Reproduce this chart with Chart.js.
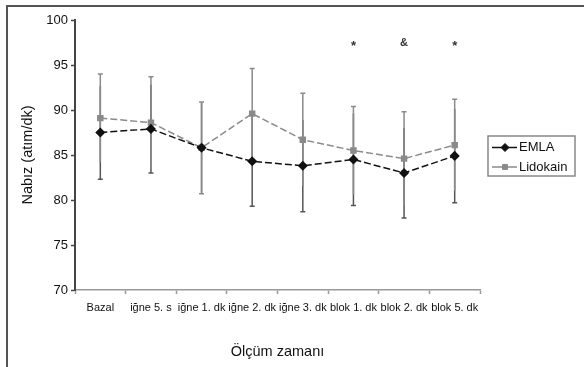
<!DOCTYPE html>
<html>
<head>
<meta charset="utf-8">
<script src="https://cdn.jsdelivr.net/npm/chart.js@4"></script>
<style>
  html, body { margin: 0; padding: 0; background: #fff; }
  #wrap { width: 584px; height: 367px; position: relative; }
</style>
</head>
<body>
<div id="wrap"><canvas id="c" width="584" height="367"></canvas></div>
<script>
const categories = ['Bazal', 'iğne 5. s', 'iğne 1. dk', 'iğne 2. dk', 'iğne 3. dk', 'blok 1. dk', 'blok 2. dk', 'blok 5. dk'];
const emlaValues = [87.5, 87.9, 85.8, 84.3, 83.8, 84.5, 83.0, 84.9];
const emlaSD = [5.2, 4.9, 5.0, 5.0, 5.1, 5.1, 5.0, 5.2];
const lidokainValues = [89.1, 88.6, 85.8, 89.6, 86.7, 85.5, 84.6, 86.1];
const lidokainSD = [4.9, 5.1, 5.1, 5.0, 5.15, 4.9, 5.2, 5.1];
const significanceMarks = ['', '', '', '', '', '*', '&', '*'];
const significanceLevel = 97.4;
const yTicks = [70, 75, 80, 85, 90, 95, 100];

const FONT = "'Liberation Sans', Arial, sans-serif";

const errorBarPlugin = {
  id: 'errorBars',
  beforeDatasetsDraw(chart) {
    const ctx = chart.ctx;
    const x = chart.scales.x, y = chart.scales.y;
    const dss = chart.data.datasets;
    dss.forEach((ds) => {
      const sd = ds.sd;
      ctx.save();
      ctx.strokeStyle = ds.errorColor;
      ctx.lineWidth = 1.5;
      ds.data.forEach((v, i) => {
        const hi = v + sd[i], lo = v - sd[i];
        const maxHi = Math.max(...dss.map(d => d.data[i] + d.sd[i]));
        const minLo = Math.min(...dss.map(d => d.data[i] - d.sd[i]));
        const px = x.getPixelForValue(i);
        const top = y.getPixelForValue(hi);
        const bot = y.getPixelForValue(lo);
        ctx.beginPath();
        ctx.moveTo(px, top); ctx.lineTo(px, bot);
        if (hi === maxHi) { ctx.moveTo(px - 2.5, top); ctx.lineTo(px + 2.5, top); }
        if (lo === minLo) { ctx.moveTo(px - 2.5, bot); ctx.lineTo(px + 2.5, bot); }
        ctx.stroke();
      });
      ctx.restore();
    });
  }
};

const decorPlugin = {
  id: 'decor',
  afterDraw(chart) {
    const ctx = chart.ctx;
    const x = chart.scales.x, y = chart.scales.y;
    ctx.save();
    // frame
    ctx.strokeStyle = '#555';
    ctx.lineWidth = 2;
    ctx.beginPath();
    ctx.moveTo(7, 367); ctx.lineTo(7, 6); ctx.lineTo(584, 6);
    ctx.stroke();

    // significance marks
    ctx.fillStyle = '#333';
    ctx.textAlign = 'center';
    ctx.textBaseline = 'middle';
    significanceMarks.forEach((m, i) => {
      if (!m) return;
      const px = x.getPixelForValue(i);
      const py = y.getPixelForValue(significanceLevel);
      if (m === '*') {
        ctx.font = 'bold 13px ' + FONT;
        ctx.fillText(m, px, py + 3);
      } else {
        ctx.font = 'bold 11px ' + FONT;
        ctx.fillText(m, px, py);
      }
    });

    // legend
    const lx = 488, ly = 136, lw = 87, lh = 40;
    ctx.fillStyle = '#fff';
    ctx.fillRect(lx, ly, lw, lh);
    ctx.strokeStyle = '#888';
    ctx.lineWidth = 1.5;
    ctx.strokeRect(lx, ly, lw, lh);
    ctx.font = '13px ' + FONT;
    ctx.textAlign = 'left';
    ctx.textBaseline = 'middle';
    chart.data.datasets.forEach((ds, i) => {
      const cy = 147.5 + i * 19.5;
      ctx.strokeStyle = ds.borderColor;
      ctx.lineWidth = 1.5;
      ctx.beginPath();
      ctx.moveTo(492, cy); ctx.lineTo(517, cy);
      ctx.stroke();
      ctx.fillStyle = ds.pointBackgroundColor;
      ctx.strokeStyle = ds.pointBorderColor;
      ctx.lineWidth = 1;
      Chart.helpers.drawPoint(ctx, {
        pointStyle: ds.pointStyle, radius: ds.pointRadius, borderWidth: 1, rotation: 0
      }, 505, cy);
      ctx.fillStyle = '#111';
      ctx.fillText(ds.label, 519, cy);
    });
    ctx.restore();
  }
};

new Chart(document.getElementById('c'), {
  type: 'line',
  data: {
    labels: categories,
    datasets: [
      {
        label: 'EMLA',
        data: emlaValues,
        sd: emlaSD,
        errorColor: '#555',
        borderColor: '#111',
        backgroundColor: '#111',
        pointBackgroundColor: '#111',
        pointBorderColor: '#111',
        pointStyle: 'rectRot',
        pointRadius: 4,
        borderWidth: 1.5,
        borderDash: [7, 3],
        tension: 0
      },
      {
        label: 'Lidokain',
        data: lidokainValues,
        sd: lidokainSD,
        errorColor: '#8a8a8a',
        borderColor: '#8a8a8a',
        backgroundColor: '#8a8a8a',
        pointBackgroundColor: '#8a8a8a',
        pointBorderColor: '#8a8a8a',
        pointStyle: 'rect',
        pointRadius: 3.5,
        borderWidth: 1.5,
        borderDash: [7, 3],
        tension: 0
      }
    ]
  },
  options: {
    responsive: false,
    animation: false,
    devicePixelRatio: 1,
    layout: { padding: { left: 0, top: 20, right: 104, bottom: 0 } },
    plugins: { legend: { display: false }, tooltip: { enabled: false } },
    scales: {
      x: {
        type: 'category',
        offset: true,
        grid: { display: true, offset: true, drawOnChartArea: false, tickLength: 4, tickColor: '#999', tickWidth: 1.5 },
        border: { display: true, color: '#999', width: 1.5 },
        ticks: { color: '#111', font: { family: FONT, size: 11 }, padding: 7, maxRotation: 0, autoSkip: false },
        title: { display: true, text: 'Ölçüm zamanı', color: '#111', font: { family: FONT, size: 14.5 }, padding: { top: 0, bottom: 6 } },
        afterFit(scale) { scale.height = 77; }
      },
      y: {
        min: 70,
        max: 100,
        afterBuildTicks(scale) { scale.ticks = yTicks.map(v => ({ value: v })); },
        grid: { display: true, drawOnChartArea: false, tickLength: 4, tickColor: '#444', tickWidth: 1.5 },
        border: { display: true, color: '#444', width: 2 },
        ticks: { color: '#111', font: { family: FONT, size: 13 }, padding: 3 },
        title: { display: true, text: 'Nabız (atım/dk)', color: '#111', font: { family: FONT, size: 14.5 }, padding: { top: 19, bottom: 0 } },
        afterFit(scale) { scale.width = 75; }
      }
    }
  },
  plugins: [errorBarPlugin, decorPlugin]
});
</script>
</body>
</html>
